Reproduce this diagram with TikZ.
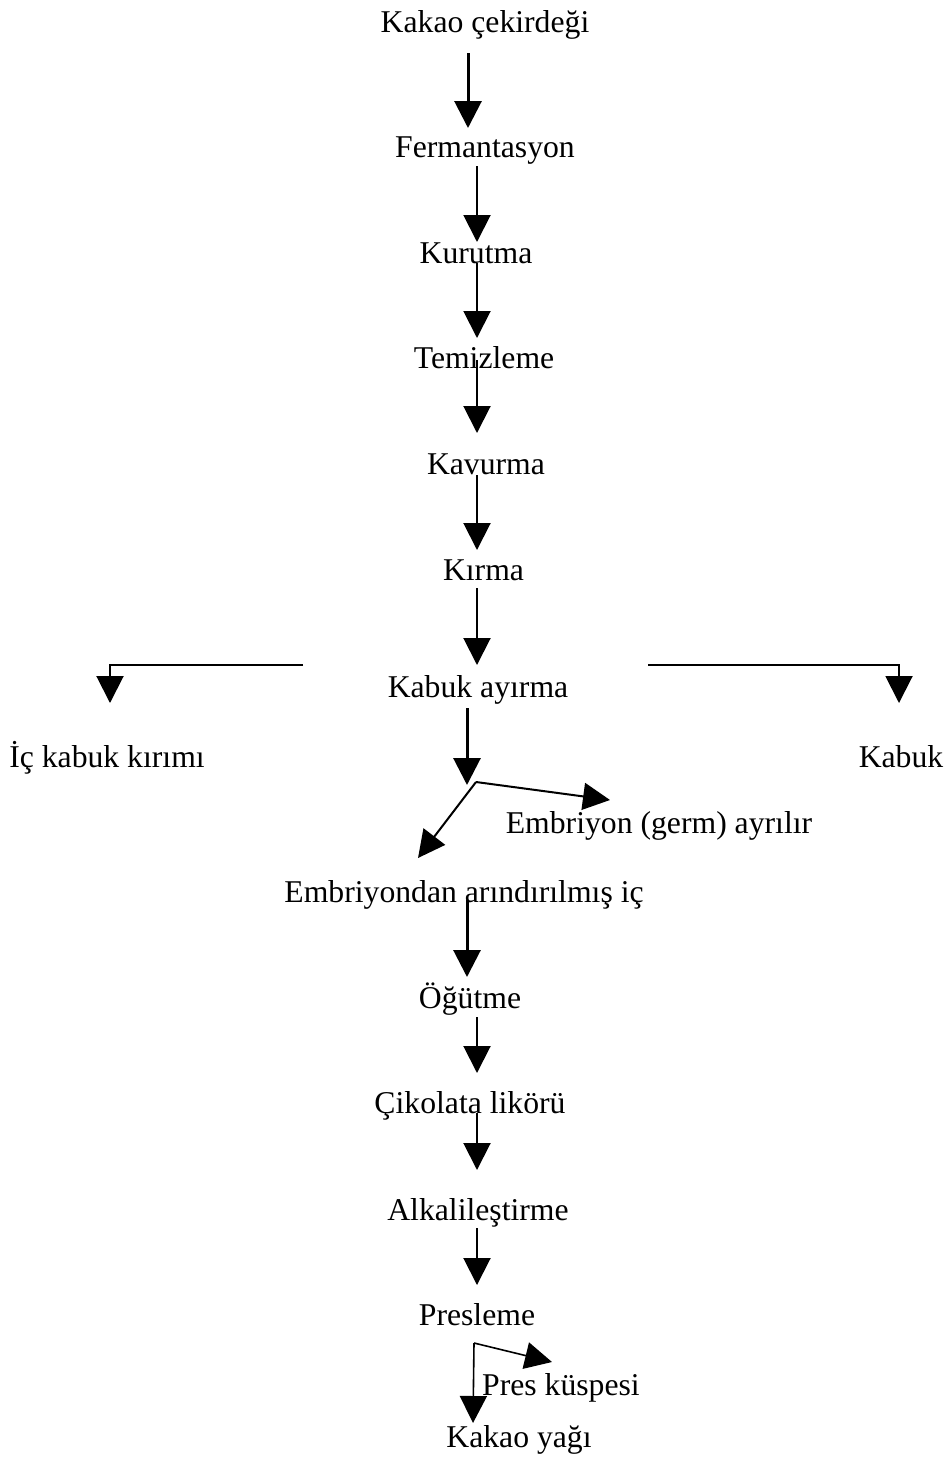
\documentclass[tikz,border=0pt]{standalone}
\usepackage{fontspec}
\setmainfont{Liberation Serif}
\usetikzlibrary{arrows.meta}
\tikzset{
  lbl/.style={inner sep=0pt, anchor=base, font=\fontsize{31.7}{38}\selectfont},
  flow/.style={line width=2pt, -{Triangle[width=27pt,length=27pt]}},
  flowthick/.style={flow, line width=3pt},
  flowthin/.style={flow, line width=1.6pt}
}
\begin{document}
\begin{tikzpicture}[x=1pt,y=-1pt]
\useasboundingbox (0,0) rectangle (948,1457);
% labels
\node[lbl] (n1) at (485,32) {Kakao çekirdeği};
\node[lbl] (n2) at (485,157) {Fermantasyon};
\node[lbl] (n3) at (476,263) {Kurutma};
\node[lbl] (n4) at (484,368) {Temizleme};
\node[lbl] (n5) at (486,474) {Kavurma};
\node[lbl] (n6) at (483.5,580) {Kırma};
\node[lbl] (n7) at (478,697) {Kabuk ayırma};
\node[lbl] (n8) at (107,767) {İç kabuk kırımı};
\node[lbl] (n9) at (901,767) {Kabuk};
\node[lbl] (n10) at (659,833) {Embriyon (germ) ayrılır};
\node[lbl] (n11) at (464,902) {Embriyondan arındırılmış iç};
\node[lbl] (n12) at (470,1008) {Öğütme};
\node[lbl] (n13) at (470,1113) {Çikolata likörü};
\node[lbl] (n14) at (478,1220) {Alkalileştirme};
\node[lbl] (n15) at (477,1325) {Presleme};
\node[lbl] (n16) at (561,1395) {Pres küspesi};
\node[lbl] (n17) at (519,1447) {Kakao yağı};
% connector end points
\coordinate (a1s) at (468,53);   \coordinate (a1e) at (468,128);
\coordinate (a2s) at (477,166);  \coordinate (a2e) at (477,242);
\coordinate (a3s) at (477,263);  \coordinate (a3e) at (477,338);
\coordinate (a4s) at (477,360);  \coordinate (a4e) at (477,433);
\coordinate (a5s) at (477,475);  \coordinate (a5e) at (477,550);
\coordinate (a6s) at (477,588);  \coordinate (a6e) at (477,665);
\coordinate (a7s) at (467,708);  \coordinate (a7e) at (467,785);
\coordinate (lbs) at (303,665);  \coordinate (lbc) at (110,665); \coordinate (lbe) at (110,703);
\coordinate (rbs) at (648,665);  \coordinate (rbc) at (899,665); \coordinate (rbe) at (899,703);
\coordinate (ej) at (476,782);
\coordinate (eg) at (610,800);
\coordinate (ed) at (418,858);
\coordinate (a8s) at (467,900);  \coordinate (a8e) at (467,977);
\coordinate (a9s) at (477,1017); \coordinate (a9e) at (477,1073);
\coordinate (a10s) at (477,1113); \coordinate (a10e) at (477,1170);
\coordinate (a11s) at (477,1228); \coordinate (a11e) at (477,1285);
\coordinate (pj) at (474,1343);
\coordinate (pk) at (552,1362);
\coordinate (py) at (473,1423);
% connectors
\draw[flowthick] (a1s) -- (a1e);
\draw[flow] (a2s) -- (a2e);
\draw[flow] (a3s) -- (a3e);
\draw[flow] (a4s) -- (a4e);
\draw[flow] (a5s) -- (a5e);
\draw[flow] (a6s) -- (a6e);
\draw[flowthick] (a7s) -- (a7e);
\draw[flow] (lbs) -- (lbc) -- (lbe);
\draw[flow] (rbs) -- (rbc) -- (rbe);
\draw[flow] (ej) -- (eg);
\draw[flow] (ej) -- (ed);
\draw[flowthick] (a8s) -- (a8e);
\draw[flow] (a9s) -- (a9e);
\draw[flow] (a10s) -- (a10e);
\draw[flow] (a11s) -- (a11e);
\draw[flowthin] (pj) -- (pk);
\draw[flowthin] (pj) -- (py);
\end{tikzpicture}
\end{document}
